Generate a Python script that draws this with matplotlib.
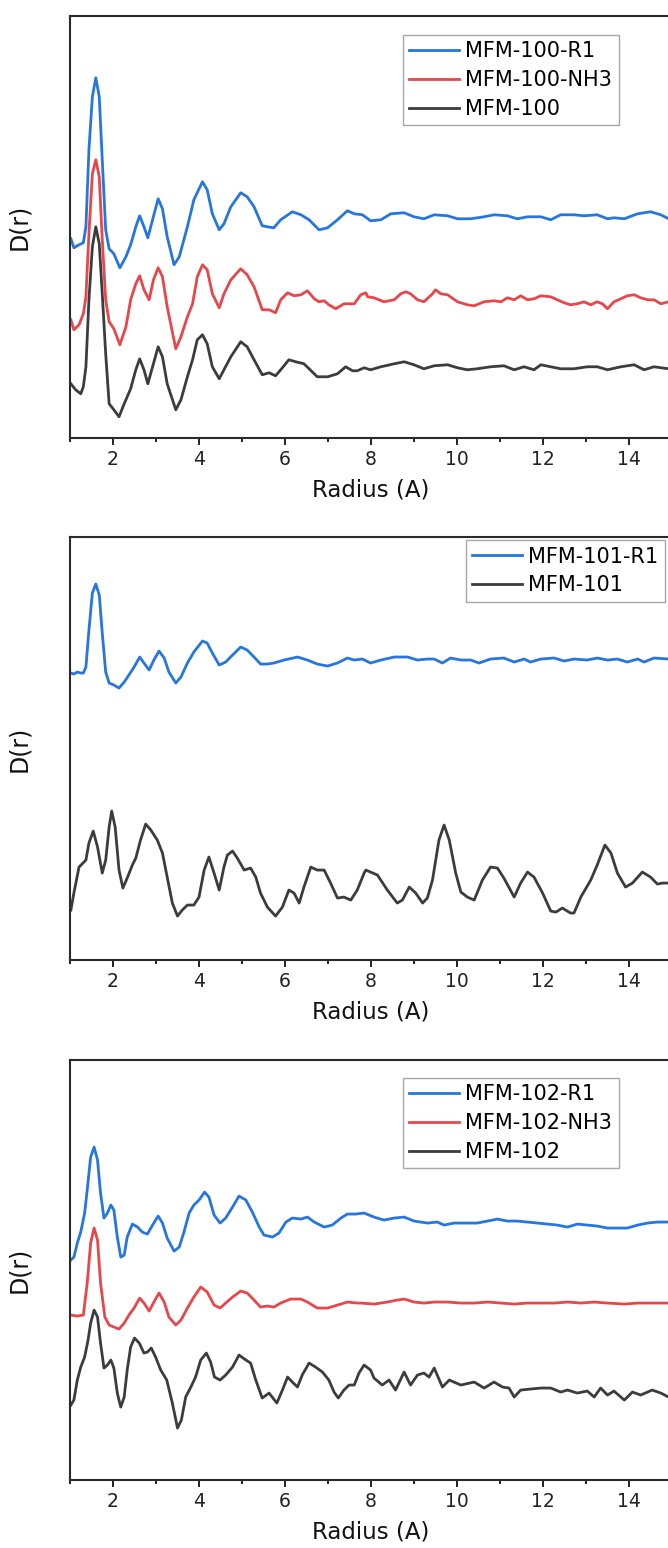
import matplotlib
matplotlib.use("Agg")
import matplotlib.pyplot as plt
from matplotlib.ticker import MultipleLocator

plt.rcParams['font.family'] = ['DejaVu Sans']

# ---------------- Panel 1 : MFM-100 ----------------
r_100_R1 = [1.02, 1.09, 1.21, 1.31, 1.37, 1.44, 1.52, 1.60, 1.68, 1.75, 1.83, 1.91, 2.02, 2.16, 2.30,
            2.41, 2.53, 2.62, 2.72, 2.81, 2.92, 3.05, 3.15, 3.26, 3.42, 3.54, 3.73, 3.88, 4.08, 4.19,
            4.31, 4.47, 4.58, 4.74, 4.97, 5.12, 5.28, 5.47, 5.59, 5.74, 5.90, 6.17, 6.37, 6.56, 6.79,
            6.99, 7.22, 7.45, 7.61, 7.80, 7.99, 8.23, 8.46, 8.77, 9.00, 9.23, 9.47, 9.78, 10.01, 10.32,
            10.63, 10.86, 11.17, 11.40, 11.64, 11.95, 12.18, 12.41, 12.72, 12.95, 13.26, 13.50, 13.65,
            13.89, 14.20, 14.50, 14.74, 14.92, 15.10]
d_100_R1 = [199, 190, 193, 195, 211, 288, 341, 360, 341, 278, 208, 189, 184, 170, 181,
            193, 211, 222, 211, 200, 218, 239, 229, 201, 173, 181, 211, 238, 256, 248,
            224, 208, 214, 231, 245, 241, 231, 212, 211, 210, 218, 226, 223, 218, 208,
            210, 218, 227, 224, 223, 217, 218, 224, 225, 221, 219, 223, 222, 219, 219,
            221, 223, 222, 219, 221, 221, 218, 223, 223, 222, 223, 219, 220,
            219, 224, 226, 223, 219, 217]

r_100_NH3 = [1.02, 1.09, 1.21, 1.31, 1.37, 1.44, 1.52, 1.60, 1.68, 1.75, 1.83, 1.91, 2.02, 2.16, 2.30,
             2.41, 2.53, 2.62, 2.72, 2.84, 2.94, 3.05, 3.15, 3.26, 3.46, 3.58, 3.73, 3.85, 3.96, 4.08,
             4.19, 4.31, 4.47, 4.58, 4.74, 4.97, 5.12, 5.28, 5.47, 5.63, 5.78, 5.90, 6.06, 6.21, 6.37,
             6.52, 6.68, 6.79, 6.91, 7.02, 7.18, 7.37, 7.61, 7.76, 7.88, 7.92, 8.07, 8.30, 8.54, 8.69,
             8.81, 8.92, 9.08, 9.23, 9.43, 9.50, 9.62, 9.78, 10.01, 10.24, 10.40, 10.63, 10.86, 11.02,
             11.17, 11.33, 11.48, 11.64, 11.79, 11.95, 12.18, 12.33, 12.49, 12.64, 12.80, 12.95, 13.11,
             13.26, 13.38, 13.50, 13.65, 13.81, 13.96, 14.12, 14.27, 14.43, 14.58, 14.74, 14.92, 15.10]
d_100_NH3 = [118, 108, 113, 124, 141, 204, 264, 278, 261, 198, 138, 116, 109, 93, 111,
             138, 154, 162, 148, 138, 158, 170, 161, 131, 89, 101, 121, 134, 161, 173,
             168, 144, 130, 144, 158, 169, 163, 151, 128, 128, 125, 138, 145, 142, 143,
             147, 139, 136, 137, 133, 129, 134, 134, 143, 145, 141, 140, 136, 138, 144,
             146, 144, 138, 136, 144, 148, 144, 143, 136, 133, 132, 136, 137, 136,
             140, 138, 142, 138, 139, 142, 141, 138, 135, 133, 134, 136, 133,
             136, 134, 129, 136, 139, 142, 143, 140, 138, 138, 134, 136, 137]

r_100 = [1.02, 1.13, 1.25, 1.31, 1.37, 1.44, 1.52, 1.60, 1.68, 1.75, 1.83, 1.91, 2.02, 2.14, 2.26,
         2.41, 2.53, 2.62, 2.72, 2.81, 2.92, 3.05, 3.15, 3.26, 3.46, 3.58, 3.73, 3.85, 3.96, 4.08,
         4.19, 4.31, 4.47, 4.58, 4.74, 4.97, 5.12, 5.28, 5.47, 5.63, 5.78, 5.90, 6.09, 6.25, 6.44,
         6.56, 6.75, 6.99, 7.22, 7.41, 7.57, 7.68, 7.84, 7.99, 8.23, 8.54, 8.77, 9.00, 9.23, 9.47,
         9.78, 10.01, 10.24, 10.47, 10.78, 11.09, 11.33, 11.56, 11.79, 11.95, 12.18, 12.41, 12.72,
         13.03, 13.26, 13.50, 13.81, 14.12, 14.35, 14.58, 14.92, 15.10]
d_100 = [54, 48, 44, 51, 71, 138, 191, 211, 194, 144, 84, 34, 28, 21, 34,
         49, 68, 79, 68, 54, 71, 91, 81, 54, 28, 38, 61, 78, 98, 103,
         94, 71, 59, 68, 81, 96, 91, 78, 63, 65, 62, 68, 78, 76, 74,
         69, 61, 61, 64, 71, 67, 67, 70, 68, 71, 74, 76, 73, 69, 72,
         73, 70, 68, 69, 71, 72, 68, 71, 68, 73, 71, 69, 69,
         71, 71, 68, 71, 73, 68, 71, 69, 70]

# ---------------- Panel 2 : MFM-101 ----------------
r_101_R1 = [1.02, 1.09, 1.17, 1.25, 1.31, 1.37, 1.44, 1.52, 1.60, 1.68, 1.75, 1.83, 1.91, 2.02, 2.14,
            2.26, 2.37, 2.49, 2.62, 2.72, 2.84, 2.95, 3.07, 3.19, 3.30, 3.46, 3.58, 3.73, 3.88, 4.08,
            4.19, 4.31, 4.47, 4.62, 4.78, 4.97, 5.12, 5.28, 5.43, 5.59, 5.74, 5.98, 6.29, 6.52, 6.75,
            6.99, 7.22, 7.45, 7.61, 7.80, 7.99, 8.23, 8.54, 8.85, 9.08, 9.31, 9.47, 9.66, 9.85, 10.09,
            10.32, 10.51, 10.78, 11.09, 11.33, 11.56, 11.71, 11.95, 12.26, 12.49, 12.72, 13.03, 13.26,
            13.50, 13.73, 13.96, 14.20, 14.35, 14.58, 14.92, 15.10]
d_101_R1 = [287, 286, 288, 287, 287, 293, 330, 367, 376, 365, 327, 288, 277, 275, 272,
            278, 285, 293, 303, 297, 290, 300, 309, 302, 288, 277, 283, 297, 308, 319,
            317, 307, 295, 298, 305, 313, 310, 303, 296, 296, 297, 300, 303, 300, 296,
            294, 297, 302, 300, 301, 297, 300, 303, 303, 300, 301, 301, 297, 302, 300,
            300, 297, 301, 302, 298, 301, 298, 301, 302, 299, 301, 300, 302,
            300, 301, 298, 301, 298, 302, 301, 300]

r_101 = [1.02, 1.09, 1.21, 1.37, 1.44, 1.54, 1.64, 1.75, 1.83, 1.91, 1.97, 2.05, 2.14, 2.23, 2.33,
         2.45, 2.53, 2.64, 2.76, 2.88, 3.03, 3.15, 3.26, 3.38, 3.50, 3.61, 3.73, 3.88, 4.00, 4.12,
         4.23, 4.35, 4.47, 4.58, 4.66, 4.78, 4.89, 5.05, 5.20, 5.32, 5.43, 5.59, 5.78, 5.94, 6.09,
         6.21, 6.33, 6.44, 6.60, 6.75, 6.91, 7.06, 7.22, 7.37, 7.53, 7.68, 7.84, 7.88, 8.15, 8.38,
         8.61, 8.73, 8.89, 9.04, 9.20, 9.31, 9.43, 9.58, 9.70, 9.82, 9.97, 10.09, 10.24, 10.40,
         10.59, 10.78, 10.94, 11.09, 11.33, 11.48, 11.64, 11.79, 11.99, 12.18, 12.30, 12.45, 12.64,
         12.72, 12.88, 13.11, 13.26, 13.44, 13.58, 13.73, 13.92, 14.08, 14.31, 14.50, 14.66, 14.78,
         14.92, 15.10]
d_101 = [50, 67, 93, 100, 117, 129, 113, 87, 100, 133, 149, 133, 90, 72, 82,
         95, 102, 120, 136, 130, 120, 107, 83, 57, 44, 50, 55, 55, 63, 90,
         103, 87, 70, 93, 105, 109, 102, 90, 92, 83, 67, 53, 44, 53, 70,
         67, 57, 73, 93, 90, 90, 77, 62, 63, 60, 70, 87, 90, 85, 70,
         57, 60, 73, 67, 57, 62, 80, 120, 135, 120, 87, 68, 63, 60,
         80, 93, 92, 82, 63, 77, 88, 83, 67, 49, 48, 52, 47,
         47, 63, 80, 95, 115, 107, 87, 73, 77, 88, 83, 76, 77,
         77, 76]

# ---------------- Panel 3 : MFM-102 ----------------
r_102_R1 = [1.02, 1.09, 1.17, 1.25, 1.34, 1.40, 1.48, 1.56, 1.64, 1.71, 1.79, 1.87, 1.95, 2.02, 2.10,
            2.18, 2.26, 2.33, 2.45, 2.57, 2.68, 2.80, 2.92, 3.05, 3.15, 3.26, 3.42, 3.54, 3.65, 3.77,
            3.88, 4.00, 4.13, 4.23, 4.35, 4.49, 4.62, 4.78, 4.93, 5.09, 5.24, 5.40, 5.51, 5.71, 5.86,
            6.02, 6.17, 6.37, 6.52, 6.68, 6.91, 7.10, 7.30, 7.45, 7.64, 7.84, 8.07, 8.30, 8.54, 8.77,
            9.00, 9.31, 9.54, 9.70, 9.93, 10.24, 10.47, 10.71, 10.94, 11.17, 11.40, 11.64, 11.87,
            12.10, 12.33, 12.57, 12.80, 13.03, 13.26, 13.50, 13.73, 13.96, 14.20, 14.43, 14.66,
            14.92, 15.10]
d_102_R1 = [220, 223, 237, 248, 267, 290, 323, 333, 320, 287, 262, 267, 275, 270, 243,
            223, 225, 243, 256, 253, 248, 246, 255, 264, 257, 242, 229, 233, 248, 267,
            275, 280, 288, 283, 265, 257, 262, 273, 284, 280, 268, 253, 245, 243, 247,
            258, 262, 261, 263, 258, 253, 255, 262, 266, 266, 267, 263, 260, 262, 263,
            259, 257, 258, 255, 257, 257, 257, 259, 261, 259, 259, 258, 257,
            256, 255, 253, 256, 255, 254, 252, 252, 252, 255, 257, 258,
            258, 258]

r_102_NH3 = [1.02, 1.17, 1.31, 1.40, 1.48, 1.56, 1.64, 1.71, 1.81, 1.91, 2.02, 2.14, 2.26, 2.37, 2.49,
             2.62, 2.72, 2.84, 2.95, 3.07, 3.19, 3.30, 3.46, 3.58, 3.73, 3.88, 4.04, 4.19, 4.35, 4.49,
             4.62, 4.78, 4.97, 5.12, 5.28, 5.43, 5.59, 5.74, 5.90, 6.13, 6.37, 6.52, 6.75, 6.99, 7.22,
             7.45, 7.68, 7.76, 8.07, 8.38, 8.61, 8.77, 9.00, 9.23, 9.47, 9.78, 10.09, 10.40, 10.71,
             11.02, 11.33, 11.64, 11.95, 12.26, 12.57, 12.88, 13.19, 13.50, 13.89, 14.20, 14.50,
             14.92, 15.10]
d_102_NH3 = [165, 164, 165, 197, 237, 252, 240, 197, 163, 155, 153, 151, 157, 165, 172,
             182, 177, 169, 178, 187, 178, 163, 155, 160, 172, 183, 193, 188, 175, 172,
             177, 183, 189, 187, 180, 173, 174, 173, 177, 181, 181, 178, 172, 172, 175,
             178, 177, 177, 176, 178, 180, 181, 178, 177, 178, 178, 177, 177, 178,
             177, 176, 177, 177, 177, 178, 177, 178, 177, 176, 177, 177,
             177, 177]

r_102 = [1.02, 1.09, 1.17, 1.25, 1.34, 1.42, 1.48, 1.56, 1.64, 1.71, 1.79, 1.87, 1.95, 2.02, 2.10,
         2.18, 2.26, 2.33, 2.41, 2.50, 2.61, 2.72, 2.80, 2.89, 2.99, 3.11, 3.25, 3.38, 3.50, 3.59,
         3.69, 3.81, 3.92, 4.04, 4.17, 4.27, 4.36, 4.49, 4.62, 4.78, 4.93, 5.09, 5.20, 5.32, 5.47,
         5.63, 5.81, 5.94, 6.06, 6.17, 6.29, 6.40, 6.56, 6.71, 6.87, 7.02, 7.14, 7.24, 7.37, 7.49,
         7.61, 7.72, 7.84, 7.99, 8.07, 8.26, 8.42, 8.57, 8.77, 8.92, 9.08, 9.23, 9.35, 9.47, 9.66,
         9.82, 10.09, 10.40, 10.63, 10.86, 11.06, 11.21, 11.33, 11.48, 11.71, 11.95, 12.18, 12.41,
         12.57, 12.80, 13.03, 13.19, 13.34, 13.50, 13.65, 13.89, 14.08, 14.27, 14.54, 14.74, 14.92,
         15.10]
d_102 = [75, 80, 100, 113, 123, 140, 157, 170, 163, 137, 112, 115, 120, 112, 87,
         73, 83, 110, 133, 142, 137, 127, 128, 132, 123, 110, 100, 77, 52, 60,
         83, 93, 103, 120, 127, 118, 103, 100, 105, 113, 125, 120, 117, 100, 82,
         87, 77, 90, 103, 98, 93, 105, 117, 113, 108, 100, 88, 82, 90, 95,
         95, 107, 115, 110, 102, 95, 100, 90, 108, 95, 105, 107, 103, 112, 93,
         100, 95, 98, 92, 98, 93, 92, 83, 90, 91, 92, 92, 88,
         90, 87, 89, 83, 92, 85, 89, 80, 88, 85, 90, 87, 83,
         85]

BLUE = "#2576e0"
RED = "#e8464b"
BLACK = "#3c3c3c"

panels = [
    dict(rect=[0.1048, 0.7172, 0.9012, 0.2724], ylim=(0, 421.7),
         series=[(r_100_R1, d_100_R1, BLUE, "MFM-100-R1"),
                 (r_100_NH3, d_100_NH3, RED, "MFM-100-NH3"),
                 (r_100, d_100, BLACK, "MFM-100")],
         leg=dict(loc="upper left", bbox_to_anchor=(0.553, 0.955))),
    dict(rect=[0.1048, 0.3798, 0.9012, 0.2731], ylim=(0, 422.7),
         series=[(r_101_R1, d_101_R1, BLUE, "MFM-101-R1"),
                 (r_101, d_101, BLACK, "MFM-101")],
         leg=dict(loc="upper right", bbox_to_anchor=(0.988, 0.993))),
    dict(rect=[0.1048, 0.0439, 0.9012, 0.2713], ylim=(0, 420),
         series=[(r_102_R1, d_102_R1, BLUE, "MFM-102-R1"),
                 (r_102_NH3, d_102_NH3, RED, "MFM-102-NH3"),
                 (r_102, d_102, BLACK, "MFM-102")],
         leg=dict(loc="upper left", bbox_to_anchor=(0.553, 0.957))),
]

fig = plt.figure(figsize=(6.68, 15.48), dpi=100)
for p in panels:
    ax = fig.add_axes(p["rect"])
    for r, d, c, lab in p["series"]:
        ax.plot(r, d, color=c, lw=2.0, label=lab, solid_joinstyle="round")
    ax.set_xlim(1, 15)
    ax.set_ylim(*p["ylim"])
    ax.xaxis.set_major_locator(MultipleLocator(2))
    ax.xaxis.set_minor_locator(MultipleLocator(1))
    ax.set_yticks([])
    ax.tick_params(axis="x", which="major", length=5, width=1.4, pad=3.5,
                   labelsize=13.5, colors="#222222", direction="out")
    ax.tick_params(axis="x", which="minor", length=3, width=1.4, direction="out",
                   colors="#222222")
    for s in ax.spines.values():
        s.set_linewidth(1.5)
        s.set_color("#2a2a2a")
    ax.set_xlabel("Radius (A)", fontsize=16.5, labelpad=7, color="#111111")
    ax.set_ylabel("D(r)", fontsize=17, labelpad=28, color="#111111")
    leg = ax.legend(fontsize=15, frameon=True, fancybox=False, edgecolor="#a8a8a8",
                    framealpha=1, handlelength=2.4, handletextpad=0.3,
                    labelspacing=0.42, borderpad=0.3, borderaxespad=0,
                    **p["leg"])
    leg.get_frame().set_linewidth(1.0)

fig.savefig("out.png", dpi=100)
